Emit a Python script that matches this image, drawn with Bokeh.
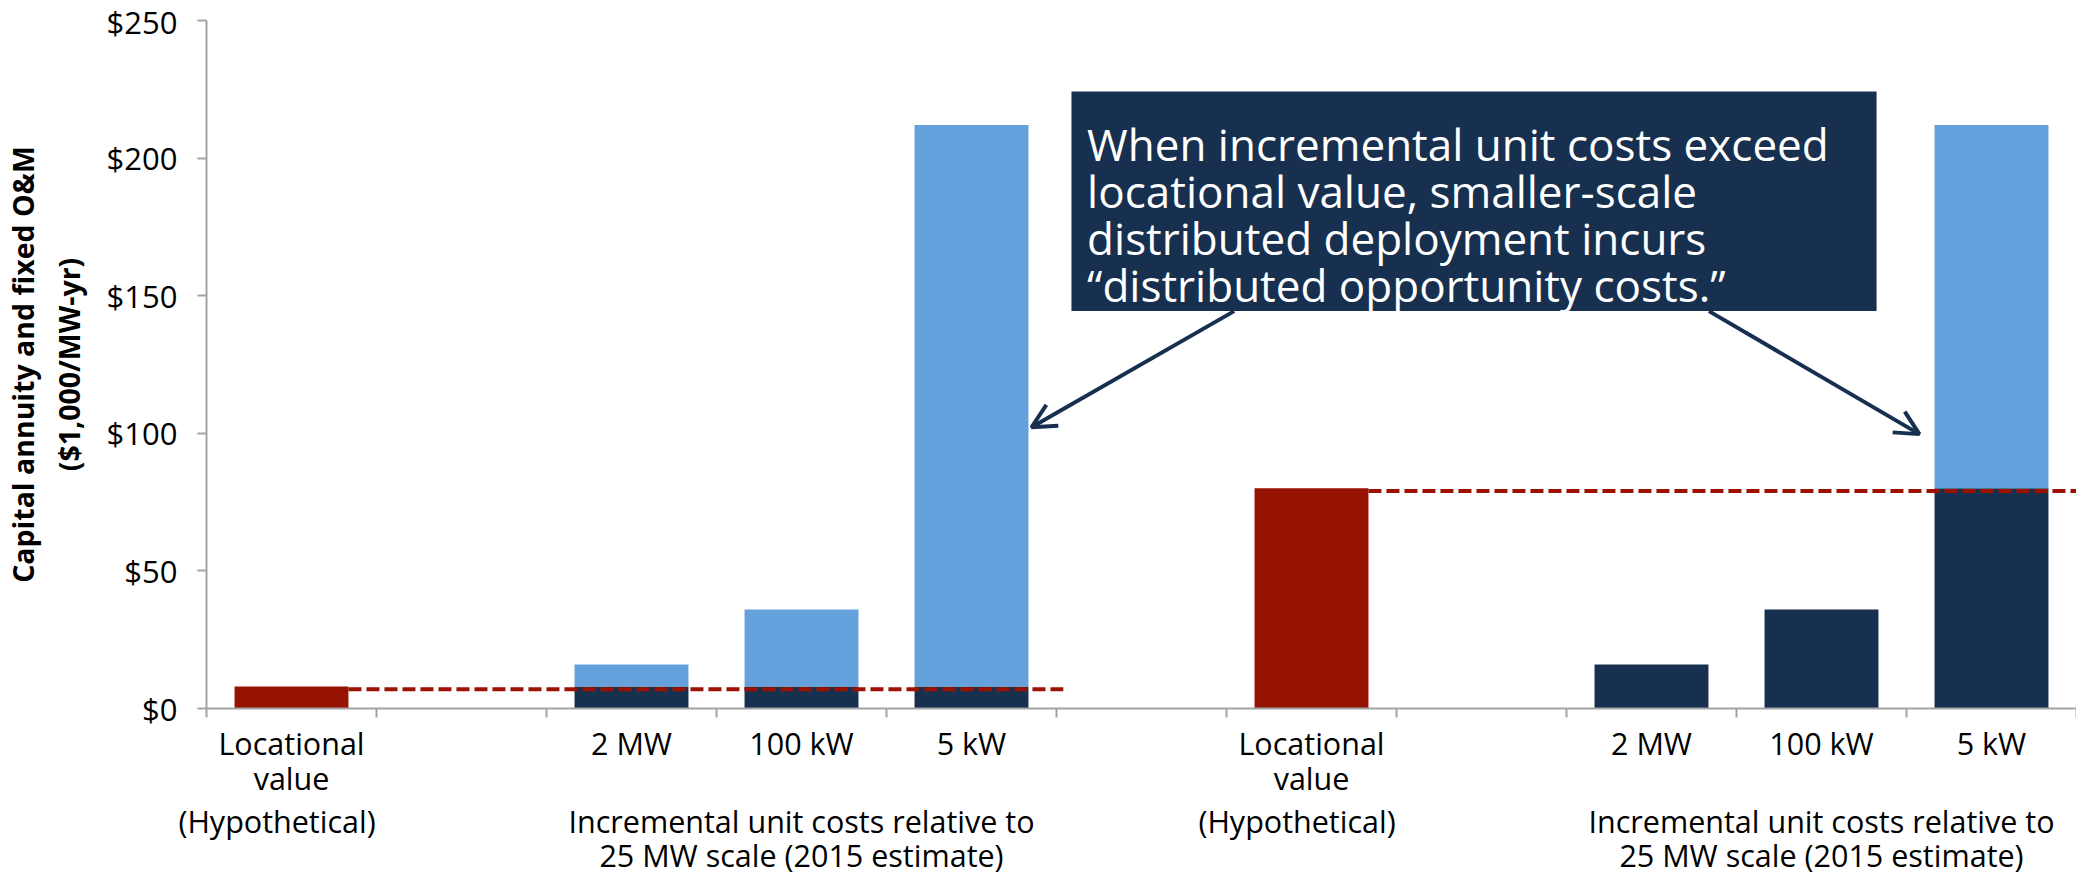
from bokeh.plotting import figure
from bokeh.models import (Range1d, FixedTicker, BoxAnnotation, Arrow, OpenHead, Label,
                          NumeralTickFormatter, LinearAxis)
from bokeh.embed import file_html
from bokeh.resources import INLINE

# ---------------- data ----------------
bar_labels = ["Locational", "2 MW", "100 kW", "5 kW"]
bar_labels_line2 = ["value"]
sub_labels = ["(Hypothetical)", "Incremental unit costs relative to"]
sub_labels_line2 = ["25 MW scale (2015 estimate)"]
locational_value = [8, 80]            # hypothetical locational value, group 1 / group 2
unit_cost_total = [16, 36, 212]       # 2 MW, 100 kW, 5 kW incremental unit costs
covered_group1 = [8, 8, 8]            # part of unit cost covered by locational value (group 1)
covered_group2 = [16, 36, 80]         # part of unit cost covered by locational value (group 2)
dashed_level = [7, 79]                # dashed reference line level
y_ticks = [0, 50, 100, 150, 200, 250]
n_slots = 11
group_start = [0, 6]                  # first slot of each group
scale_slot_offset = [2, 3, 4]         # slots of the 2 MW / 100 kW / 5 kW bars within a group

RED = "#951300"
NAVY = "#17304f"
LIGHT = "#65a1dc"
GRAY = "#a3a3a3"
FONT = "Open Sans"
BAR_W = 0.67

p = figure(width=2076, height=878, x_range=Range1d(0, n_slots), y_range=Range1d(0, 250),
           output_backend="svg", toolbar_location=None,
           min_border_left=203, min_border_right=0, min_border_top=20, min_border_bottom=167)
p.outline_line_color = None
p.grid.visible = False

# ---- bars ----
covered = [covered_group1, covered_group2]
for g, start in enumerate(group_start):
    p.vbar(x=[start + 0.5], width=BAR_W, bottom=0, top=[locational_value[g]],
           fill_color=RED, line_color=None)
    xs = [start + o + 0.5 for o in scale_slot_offset]
    p.vbar(x=xs, width=BAR_W, bottom=0, top=covered[g], fill_color=NAVY, line_color=None)
    p.vbar(x=xs, width=BAR_W, bottom=covered[g], top=unit_cost_total,
           fill_color=LIGHT, line_color=None)

# ---- dashed reference lines ----
x0s = [start + 0.5 + BAR_W / 2 for start in group_start]
x1s = [group_start[0] + 5.04, n_slots]
p.segment(x0=x0s, y0=dashed_level, x1=x1s, y1=dashed_level,
          line_color="#9b1200", line_width=4, line_dash="13 5")

# ---- x axis: ticks at slot boundaries ----
xa = p.xaxis[0]
xa.ticker = FixedTicker(ticks=list(range(n_slots + 1)))
xa.major_label_overrides = {i: "" for i in range(n_slots + 1)}
xa.major_label_text_color = None
xa.major_label_text_font_size = "1px"
xa.major_label_standoff = -2
xa.major_tick_out = 9
xa.major_tick_in = 0
xa.minor_tick_line_color = None
xa.axis_line_color = GRAY
xa.axis_line_width = 2
xa.major_tick_line_color = GRAY
xa.major_tick_line_width = 2

# ---- category label rows (one label-only axis per text row) ----
rows = [[], [], [], []]
for start in group_start:
    rows[0].append((start + 0.5, bar_labels[0]))
    for o, name in zip(scale_slot_offset, bar_labels[1:]):
        rows[0].append((start + o + 0.5, name))
    rows[1].append((start + 0.5, bar_labels_line2[0]))
    rows[2] += [(start + 0.415, sub_labels[0]), (start + 3.5, sub_labels[1])]
    rows[3].append((start + 3.5, sub_labels_line2[0]))

standoffs = [4, -10, -2, -11]
for row, so in zip(rows, standoffs):
    ax = LinearAxis(ticker=FixedTicker(ticks=[x for x, _ in row]),
                    major_label_overrides={x: t for x, t in row},
                    axis_line_color=None, major_tick_line_color=None,
                    minor_tick_line_color=None, major_tick_out=0, major_tick_in=0,
                    major_label_standoff=so, major_label_text_font=FONT,
                    major_label_text_font_size="30.5px", major_label_text_color="black")
    p.add_layout(ax, "below")

# ---- y axis ----
ya = p.yaxis[0]
ya.ticker = FixedTicker(ticks=y_ticks)
ya.formatter = NumeralTickFormatter(format="$0")
ya.major_label_text_font = FONT
ya.major_label_text_font_size = "31px"
ya.major_label_text_color = "black"
ya.major_label_standoff = 20
ya.major_tick_out = 9
ya.major_tick_in = 0
ya.minor_tick_line_color = None
ya.axis_line_color = GRAY
ya.axis_line_width = 2
ya.major_tick_line_color = GRAY
ya.major_tick_line_width = 2
ya.axis_label = "Capital annuity and fixed O&M\n($1,000/MW-yr)"
ya.axis_label_text_font = FONT
ya.axis_label_text_font_style = "bold"
ya.axis_label_text_font_size = "28.5px"
ya.axis_label_text_color = "black"
ya.axis_label_standoff = 16

# ---- callout box ----
p.add_layout(BoxAnnotation(left=5.088, right=9.824, bottom=144.4, top=224.2,
                           fill_color=NAVY, fill_alpha=1, line_color=None))
callout = ["When incremental unit costs exceed",
           "locational value, smaller-scale",
           "distributed deployment incurs",
           "\u201cdistributed opportunity costs.\u201d"]
for i, line in enumerate(callout):
    p.add_layout(Label(x=5.18, y=205.3 - i * 17.1, text=line, text_font=FONT,
                       text_font_size="44px", text_color="white", text_align="left",
                       text_baseline="alphabetic"))

for xs_, ys_, xe_, ye_ in [(6.045, 144.4, 4.853, 102.2), (8.838, 144.4, 10.076, 99.7)]:
    p.add_layout(Arrow(end=OpenHead(size=24, line_width=4, line_color=NAVY),
                       x_start=xs_, y_start=ys_, x_end=xe_, y_end=ye_,
                       line_color=NAVY, line_width=4))

open("out.html", "w").write(file_html(p, INLINE))
